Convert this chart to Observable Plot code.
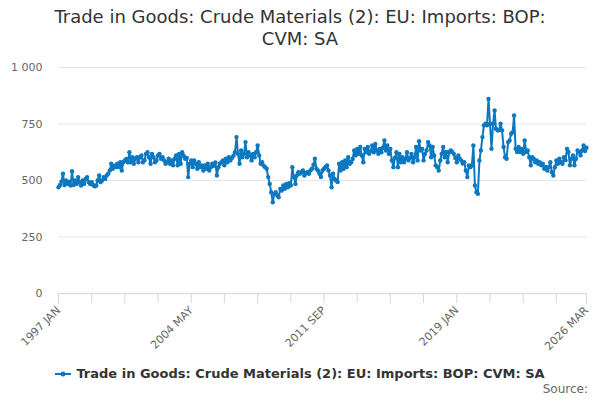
<!DOCTYPE html>
<html>
<head>
<meta charset="utf-8">
<script src="https://cdn.jsdelivr.net/npm/d3@7"></script>
<script src="https://cdn.jsdelivr.net/npm/@observablehq/plot@0.6"></script>
<style>
  body { margin: 0; background: #fff; font-family: "DejaVu Sans", sans-serif; }
  #wrap { width: 600px; height: 400px; position: relative; overflow: hidden; background: #fff; }
  #title { position: absolute; top: 6px; left: 0; width: 600px; text-align: center; font-size: 18px; line-height: 22px; color: #333; }
  #chart { position: absolute; top: 56px; left: 0; }
  #legend { position: absolute; top: 366px; left: 0; width: 600px; display: flex; justify-content: center; align-items: center; font-size: 13px; font-weight: bold; color: #333; }
  #legend svg { margin-right: 5px; }
  #source { position: absolute; top: 382px; right: 12px; font-size: 12px; color: #666; }
</style>
</head>
<body>
<div id="wrap">
  <div id="title">Trade in Goods: Crude Materials (2): EU: Imports: BOP:<br>CVM: SA</div>
  <div id="chart"></div>
  <div id="legend"></div>
  <div id="source">Source:</div>
</div>
<script>
const seriesName = "Trade in Goods: Crude Materials (2): EU: Imports: BOP: CVM: SA";
const monthNames = ["JAN","FEB","MAR","APR","MAY","JUN","JUL","AUG","SEP","OCT","NOV","DEC"];
const startYear = 1997;
const yTicks = [0, 250, 500, 750, 1000];

// Monthly values, £ million (CVM), by year
const v1997 = [470, 480, 495, 530, 480, 500, 485, 495, 478, 541, 480, 500];
const v1998 = [485, 515, 493, 478, 500, 485, 507, 515, 493, 485, 493, 480];
const v1999 = [474, 478, 500, 522, 493, 500, 515, 507, 522, 530, 544, 574];
const v2000 = [552, 566, 559, 574, 559, 581, 544, 581, 589, 595, 580, 625];
const v2001 = [581, 603, 574, 596, 603, 581, 603, 611, 581, 590, 618, 625];
const v2002 = [603, 574, 618, 603, 581, 589, 611, 618, 596, 603, 589, 574];
const v2003 = [581, 596, 574, 589, 567, 596, 611, 567, 618, 574, 625, 610];
const v2004 = [596, 600, 515, 574, 589, 559, 589, 574, 552, 581, 559, 567];
const v2005 = [544, 567, 552, 574, 544, 559, 574, 565, 580, 522, 559, 574];
const v2006 = [581, 589, 567, 596, 581, 603, 589, 600, 610, 625, 692, 618];
const v2007 = [574, 633, 603, 618, 670, 603, 625, 611, 589, 618, 603, 625];
const v2008 = [655, 611, 574, 581, 566, 559, 552, 515, 485, 448, 404, 441];
const v2009 = [448, 434, 426, 463, 456, 478, 463, 485, 470, 488, 478, 559];
const v2010 = [515, 485, 522, 537, 530, 537, 544, 522, 533, 537, 530, 544];
const v2011 = [552, 570, 596, 552, 544, 530, 515, 544, 552, 560, 567, 544];
const v2012 = [522, 470, 530, 507, 500, 493, 574, 544, 581, 552, 589, 559];
const v2013 = [603, 574, 581, 595, 633, 611, 640, 618, 648, 611, 581, 640];
const v2014 = [625, 648, 618, 630, 655, 625, 662, 633, 618, 640, 625, 645];
const v2015 = [677, 633, 655, 618, 640, 589, 559, 600, 625, 559, 618, 581];
const v2016 = [603, 581, 596, 625, 589, 600, 618, 581, 603, 648, 589, 674];
const v2017 = [633, 640, 589, 618, 633, 670, 655, 603, 648, 611, 567, 559];
const v2018 = [544, 589, 618, 648, 603, 626, 581, 626, 633, 626, 618, 600];
const v2019 = [581, 611, 596, 589, 575, 581, 544, 515, 567, 559, 567, 655];
const v2020 = [478, 448, 441, 589, 633, 692, 744, 751, 744, 861, 751, 640];
const v2021 = [751, 810, 729, 722, 722, 751, 722, 648, 603, 596, 670, 677];
const v2022 = [707, 714, 788, 640, 626, 648, 626, 640, 618, 677, 626, 633];
const v2023 = [603, 567, 603, 596, 581, 589, 574, 581, 567, 574, 552, 560];
const v2024 = [544, 559, 581, 537, 522, 559, 589, 574, 596, 581, 574, 603];
const v2025 = [590, 640, 626, 567, 596, 611, 567, 596, 633, 626, 611, 633];
const v2026 = [655, 630, 645];

const values = [].concat(v1997, v1998, v1999, v2000, v2001, v2002, v2003, v2004, v2005, v2006,
  v2007, v2008, v2009, v2010, v2011, v2012, v2013, v2014, v2015, v2016, v2017, v2018, v2019,
  v2020, v2021, v2022, v2023, v2024, v2025, v2026);

const data = values.map((v, i) => ({ date: new Date(Date.UTC(startYear, i, 1)), value: v }));
const n = data.length;

// ticks every 22 months plus the last month; labels every 88 months and on the last month
const tickIdx = d3.range(0, n - 1, 22).concat([n - 1]);
const labelIdx = new Set([0, 88, 176, 264, n - 1]);
const tickDates = tickIdx.map(i => data[i].date);
const fmtDate = d => {
  const i = (d.getUTCFullYear() - startYear) * 12 + d.getUTCMonth();
  return labelIdx.has(i) ? `${d.getUTCFullYear()} ${monthNames[d.getUTCMonth()]}` : "";
};

const color = "#0b78c0";

const chart = Plot.plot({
  width: 600,
  height: 300,
  marginTop: 11,
  marginBottom: 63,
  marginLeft: 58,
  marginRight: 14,
  style: { fontFamily: "DejaVu Sans, sans-serif", fontSize: "11px", background: "#fff", overflow: "visible" },
  x: { type: "utc", domain: [data[0].date, data[n - 1].date], label: null },
  y: { domain: [0, 1000], label: null },
  marks: [
    Plot.gridY(yTicks.filter(d => d > 0), { stroke: "#e6e6e6", strokeOpacity: 1 }),
    Plot.axisY(yTicks, {
      tickSize: 0, tickPadding: 16, fill: "#666", fontSize: 11, label: null,
      tickFormat: d => d3.format(",")(d).replace(/,/g, " ")
    }),
    Plot.ruleY([0], { stroke: "#ccd6eb", strokeWidth: 1 }),
    Plot.axisX(tickDates, {
      tickSize: 10, stroke: "#ccd6eb", fill: "#666", fontSize: 11, label: null,
      tickRotate: -45, tickPadding: 5, tickFormat: fmtDate
    }),
    Plot.lineY(data, { x: "date", y: "value", stroke: color, strokeWidth: 2 }),
    Plot.dot(data, { x: "date", y: "value", r: 2.2, fill: color, stroke: "none" })
  ]
});
document.getElementById("chart").appendChild(chart);

// legend
const legend = document.getElementById("legend");
legend.innerHTML = `<svg width="16" height="10"><line x1="0" y1="5" x2="16" y2="5" stroke="${color}" stroke-width="2"/><circle cx="8" cy="5" r="2.5" fill="${color}"/></svg><span>${seriesName}</span>`;
</script>
</body>
</html>
